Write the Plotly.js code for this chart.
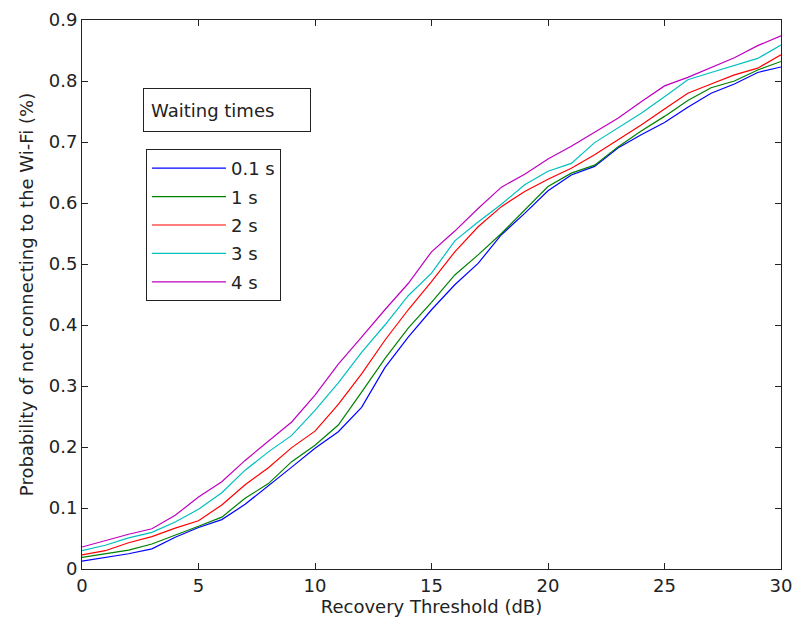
<!DOCTYPE html>
<html>
<head>
<meta charset="utf-8">
<script src="https://cdn.plot.ly/plotly-3.0.1.min.js"></script>
<style>html,body{margin:0;padding:0;background:#fff;}#chart{width:792px;height:627px;}</style>
</head>
<body>
<div id="chart"></div>
<script>
// Recovery threshold (dB)
var thresholdDb = [0,1,2,3,4,5,6,7,8,9,10,11,12,13,14,15,16,17,18,19,20,21,22,23,24,25,26,27,28,29,30];
var seriesNames = ["0.1 s", "1 s", "2 s", "3 s", "4 s"];
var wait01 = [0.013,0.019,0.025,0.033,0.052,0.068,0.081,0.106,0.136,0.167,0.198,0.225,0.265,0.330,0.380,0.425,0.466,0.501,0.548,0.583,0.620,0.646,0.660,0.690,0.712,0.732,0.757,0.780,0.795,0.814,0.823];
var wait1  = [0.019,0.025,0.031,0.041,0.055,0.070,0.085,0.116,0.140,0.176,0.203,0.236,0.290,0.345,0.395,0.437,0.482,0.515,0.550,0.589,0.627,0.649,0.662,0.692,0.718,0.742,0.768,0.789,0.800,0.818,0.832];
var wait2  = [0.023,0.030,0.043,0.053,0.067,0.079,0.105,0.138,0.166,0.199,0.226,0.270,0.320,0.375,0.425,0.471,0.520,0.561,0.594,0.619,0.639,0.657,0.679,0.703,0.728,0.754,0.780,0.795,0.810,0.821,0.843];
var wait3  = [0.030,0.039,0.051,0.060,0.077,0.098,0.125,0.162,0.192,0.219,0.260,0.305,0.355,0.400,0.448,0.485,0.538,0.569,0.598,0.630,0.652,0.665,0.699,0.723,0.747,0.774,0.802,0.814,0.826,0.837,0.859];
var wait4  = [0.036,0.047,0.057,0.066,0.088,0.118,0.143,0.178,0.210,0.241,0.285,0.336,0.380,0.425,0.468,0.520,0.554,0.591,0.626,0.647,0.672,0.693,0.716,0.739,0.766,0.792,0.806,0.822,0.838,0.858,0.874];
var seriesValues = [wait01, wait1, wait2, wait3, wait4];
var seriesColors = ["rgb(0,0,255)", "rgb(0,128,0)", "rgb(255,0,0)", "rgb(0,191,191)", "rgb(191,0,191)"];

var FONT = "DejaVu Sans, Verdana, sans-serif";
var traces = seriesValues.map(function(v, i) {
  return {
    x: thresholdDb, y: v, type: "scatter", mode: "lines",
    name: seriesNames[i], legendgroup: "g" + i,
    line: {color: seriesColors[i], width: 1.2, shape: "linear"}
  };
});

var axisCommon = {
  showgrid: false, zeroline: false, showline: true, linecolor: "#222", linewidth: 1,
  mirror: "ticks", ticks: "inside", ticklen: 6, tickcolor: "#222", tickwidth: 1,
  ticklabeloverflow: "allow",
  tickfont: {family: FONT, size: 18, color: "#222"}
};

var layout = {
  width: 792, height: 627,
  margin: {l: 82, r: 11, t: 20, b: 58},
  paper_bgcolor: "#fff", plot_bgcolor: "#fff",
  showlegend: true,
  xaxis: Object.assign({}, axisCommon, {
    range: [0, 30], tickmode: "linear", tick0: 0, dtick: 5,
    title: {text: "Recovery Threshold (dB)", font: {family: FONT, size: 18, color: "#222"}, standoff: 3}
  }),
  yaxis: Object.assign({}, axisCommon, {
    range: [0, 0.9], tickmode: "linear", tick0: 0, dtick: 0.1,
    title: {text: "Probability of not connecting to the Wi-Fi (%)", font: {family: FONT, size: 18, color: "#222"}, standoff: 10}
  }),
  legend: {
    x: 0.0915, y: 0.765, xanchor: "left", yanchor: "top",
    bgcolor: "#fff", bordercolor: "#222", borderwidth: 1,
    font: {family: FONT, size: 18, color: "#222"},
    tracegroupgap: 2, itemwidth: 74
  },
  annotations: [{
    xref: "paper", yref: "paper", x: 0.0873, y: 0.876, xanchor: "left", yanchor: "top",
    text: "Waiting times", showarrow: false, align: "left",
    width: 152, height: 28, borderpad: 7,
    bordercolor: "#222", borderwidth: 1, bgcolor: "#fff",
    font: {family: FONT, size: 18, color: "#222"}
  }]
};

Plotly.newPlot("chart", traces, layout, {displayModeBar: false, staticPlot: true});
</script>
</body>
</html>
